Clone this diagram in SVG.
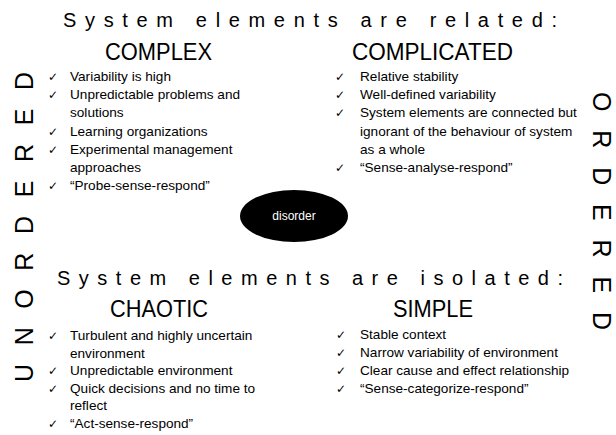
<svg xmlns="http://www.w3.org/2000/svg" width="616" height="435" viewBox="0 0 616 435">
<style>
  text { font-family: "Liberation Sans", Arial, sans-serif; fill: #000; }
  .title { font-size: 20px; }
  .head { font-size: 24px; text-anchor: middle; }
  .item { font-size: 13.6px; }
  .chk { font-family: "DejaVu Sans", sans-serif; font-size: 12px; }
  .axis { font-size: 25px; }
  .dis { font-size: 12px; fill: #fff; text-anchor: middle; }
</style>
<rect width="616" height="435" fill="#fff"/>

<g id="axis-unordered">
  <text class="axis" transform="translate(33,382) rotate(-90)" textLength="310" lengthAdjust="spacing">UNORDERED</text>
</g>
<g id="axis-ordered">
  <text class="axis" transform="translate(593,92) rotate(90)" textLength="238" lengthAdjust="spacing">ORDERED</text>
</g>

<g id="title-related">
  <text class="title" x="63" y="27" textLength="494" lengthAdjust="spacing">System elements are related:</text>
</g>
<g id="title-isolated">
  <text class="title" x="57" y="285" textLength="506" lengthAdjust="spacing">System elements are isolated:</text>
</g>

<g id="complex">
  <text class="head" x="158.5" y="60" textLength="107" lengthAdjust="spacingAndGlyphs">COMPLEX</text>
  <text class="chk" x="48" y="81">✓</text><text class="item" x="70" y="81">Variability is high</text>
  <text class="chk" x="48" y="99.2">✓</text><text class="item" x="70" y="99.2">Unpredictable problems and</text>
  <text class="item" x="70" y="117.4">solutions</text>
  <text class="chk" x="48" y="135.6">✓</text><text class="item" x="70" y="135.6">Learning organizations</text>
  <text class="chk" x="48" y="153.8">✓</text><text class="item" x="70" y="153.8">Experimental management</text>
  <text class="item" x="70" y="172">approaches</text>
  <text class="chk" x="48" y="190.2">✓</text><text class="item" x="70" y="190.2">“Probe-sense-respond”</text>
</g>

<g id="complicated">
  <text class="head" x="432.5" y="60" textLength="161" lengthAdjust="spacingAndGlyphs">COMPLICATED</text>
  <text class="chk" x="335" y="81">✓</text><text class="item" x="360" y="81">Relative stability</text>
  <text class="chk" x="335" y="99.2">✓</text><text class="item" x="360" y="99.2">Well-defined variability</text>
  <text class="chk" x="335" y="117.4">✓</text><text class="item" x="360" y="117.4">System elements are connected but</text>
  <text class="item" x="360" y="135.6">ignorant of the behaviour of system</text>
  <text class="item" x="360" y="153.8">as a whole</text>
  <text class="chk" x="335" y="172">✓</text><text class="item" x="360" y="172">“Sense-analyse-respond”</text>
</g>

<g id="disorder">
  <ellipse cx="294" cy="216" rx="54" ry="26" fill="#000"/>
  <text class="dis" x="294" y="220">disorder</text>
</g>

<g id="chaotic">
  <text class="head" x="159" y="317" textLength="98" lengthAdjust="spacingAndGlyphs">CHAOTIC</text>
  <text class="chk" x="48" y="340">✓</text><text class="item" x="70" y="340">Turbulent and highly uncertain</text>
  <text class="item" x="70" y="357.6">environment</text>
  <text class="chk" x="48" y="375.2">✓</text><text class="item" x="70" y="375.2">Unpredictable environment</text>
  <text class="chk" x="48" y="392.8">✓</text><text class="item" x="70" y="392.8">Quick decisions and no time to</text>
  <text class="item" x="70" y="410.4">reflect</text>
  <text class="chk" x="48" y="428">✓</text><text class="item" x="70" y="428">“Act-sense-respond”</text>
</g>

<g id="simple">
  <text class="head" x="433" y="317" textLength="80" lengthAdjust="spacingAndGlyphs">SIMPLE</text>
  <text class="chk" x="336" y="339">✓</text><text class="item" x="360" y="339">Stable context</text>
  <text class="chk" x="336" y="357">✓</text><text class="item" x="360" y="357">Narrow variability of environment</text>
  <text class="chk" x="336" y="375">✓</text><text class="item" x="360" y="375">Clear cause and effect relationship</text>
  <text class="chk" x="336" y="393">✓</text><text class="item" x="360" y="393">“Sense-categorize-respond”</text>
</g>

<g id="connectors"></g>
</svg>
